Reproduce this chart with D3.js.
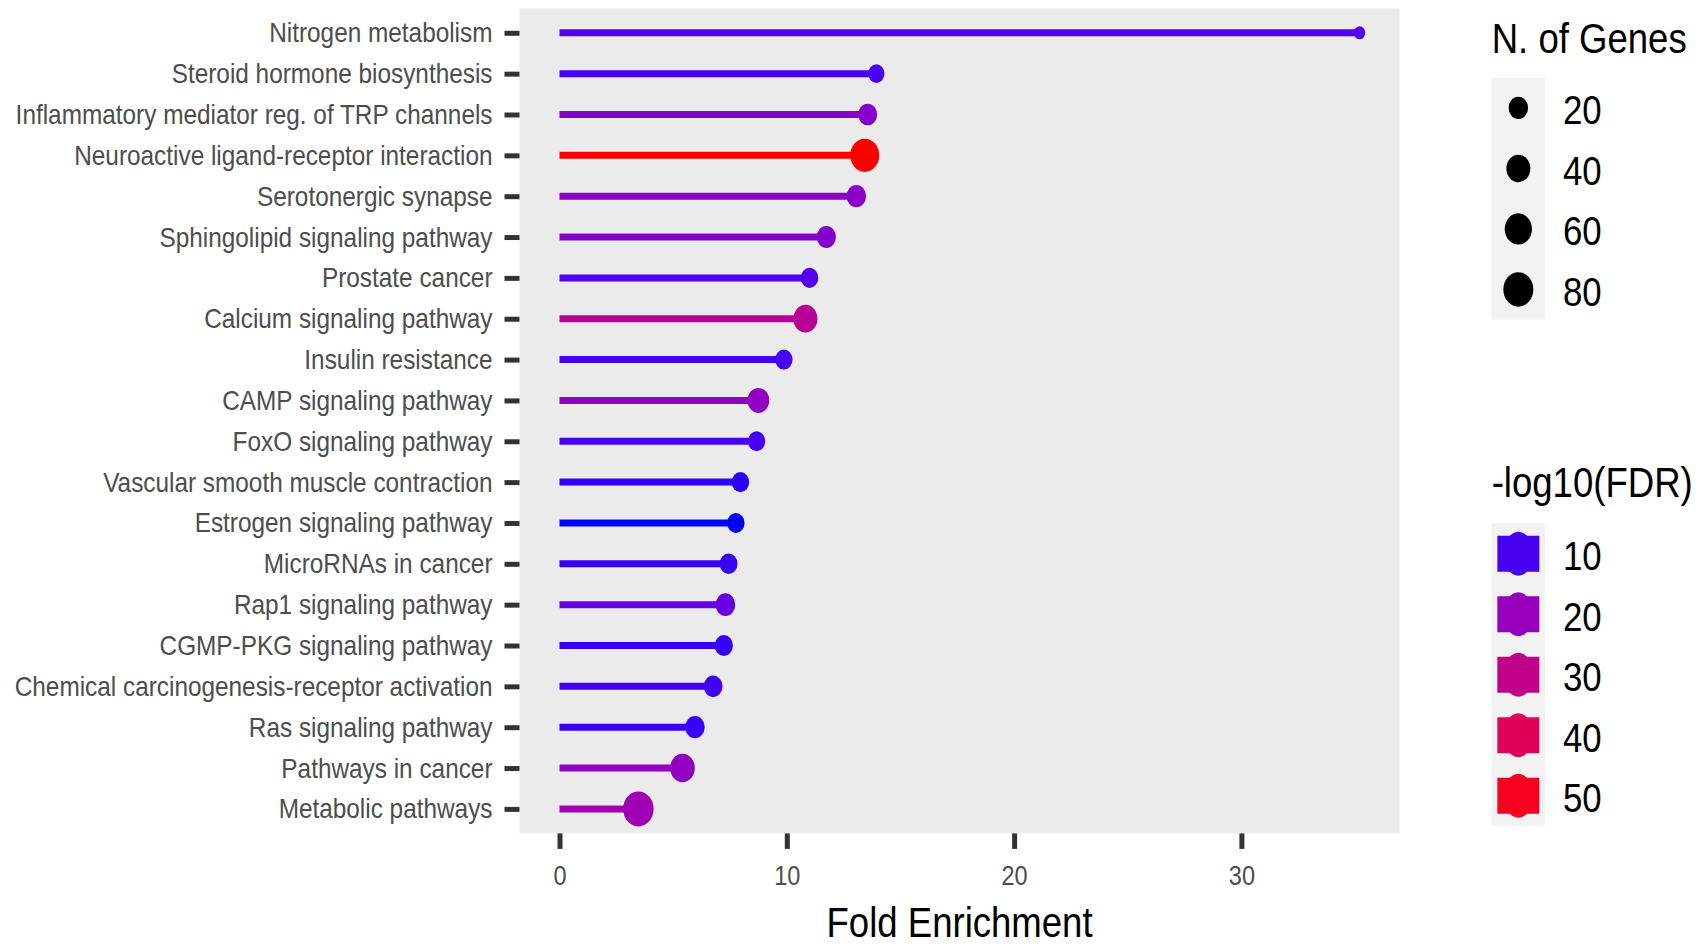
<!DOCTYPE html>
<html>
<head>
<meta charset="utf-8">
<script src="https://cdn.jsdelivr.net/npm/d3@7"></script>
<style>
  html, body { margin: 0; padding: 0; background: #ffffff; }
  svg { display: block; font-family: "Liberation Sans", Arial, Helvetica, sans-serif; }
</style>
</head>
<body>
<svg id="chart" width="1697" height="946"></svg>
<script>
// KEGG pathway enrichment, top to bottom
const categories = [
  "Nitrogen metabolism",
  "Steroid hormone biosynthesis",
  "Inflammatory mediator reg. of TRP channels",
  "Neuroactive ligand-receptor interaction",
  "Serotonergic synapse",
  "Sphingolipid signaling pathway",
  "Prostate cancer",
  "Calcium signaling pathway",
  "Insulin resistance",
  "CAMP signaling pathway",
  "FoxO signaling pathway",
  "Vascular smooth muscle contraction",
  "Estrogen signaling pathway",
  "MicroRNAs in cancer",
  "Rap1 signaling pathway",
  "CGMP-PKG signaling pathway",
  "Chemical carcinogenesis-receptor activation",
  "Ras signaling pathway",
  "Pathways in cancer",
  "Metabolic pathways"
];
const foldEnrichment = [35.2, 13.94, 13.56, 13.43, 13.06, 11.74, 11.0, 10.82, 9.87, 8.75,
                        8.67, 7.96, 7.76, 7.44, 7.30, 7.23, 6.76, 5.96, 5.41, 3.47];
const geneCounts = [6, 11, 18, 72, 20, 19, 14, 41, 14, 29,
                    14, 14, 14, 15, 21, 16, 18, 20, 44, 84];
const negLog10FDR = [11, 10, 17, 53, 18, 17, 11, 28, 10, 19,
                     10, 8.5, 7.5, 9, 13, 9, 9.5, 9, 19, 22];

const xTicks = [0, 10, 20, 30];
const sizeBreaks = [20, 40, 60, 80];
const colorBreaks = [10, 20, 30, 40, 50];

const xTitle = "Fold Enrichment";
const sizeTitle = "N. of Genes";
const colorTitle = "-log10(FDR)";

// horizontal squeeze applied to glyphs and point widths
const SX = 0.87;

const panel = { left: 519.5, right: 1399.6, top: 8.3, bottom: 833.4 };

const svg = d3.select("#chart");

// scales
const xMax = d3.max(foldEnrichment);
const xPad = xMax * 0.05;
const x = d3.scaleLinear().domain([-xPad, xMax + xPad]).range([panel.left, panel.right]);
const y = d3.scalePoint().domain(categories).range([panel.top, panel.bottom]).padding(0.6);

const color = d3.scaleLinear()
  .domain(d3.extent(negLog10FDR))
  .range(["#0000ff", "#ff0000"])
  .interpolate(d3.interpolateLab);

const gExt = d3.extent(geneCounts);
const sizeT = d3.scaleLinear().domain(gExt).range([0, 1]).clamp(true);
const diam = d3.scaleLinear().domain([0, 1]).range([13, 35]);
const dotDiameter = n => diam(Math.sqrt(sizeT(n)));

// panel background
svg.append("rect")
  .attr("x", panel.left).attr("y", panel.top)
  .attr("width", panel.right - panel.left).attr("height", panel.bottom - panel.top)
  .attr("fill", "#ebebeb");

const rows = categories.map((c, i) => ({
  cat: c, fe: foldEnrichment[i], n: geneCounts[i], fdr: negLog10FDR[i]
}));

// lollipop stems
svg.append("g").selectAll("line").data(rows).join("line")
  .attr("x1", x(0)).attr("x2", d => x(d.fe))
  .attr("y1", d => y(d.cat)).attr("y2", d => y(d.cat))
  .attr("stroke", d => color(d.fdr))
  .attr("stroke-width", 7);

// heads
svg.append("g").selectAll("ellipse").data(rows).join("ellipse")
  .attr("cx", d => x(d.fe)).attr("cy", d => y(d.cat))
  .attr("ry", d => dotDiameter(d.n) / 2)
  .attr("rx", d => dotDiameter(d.n) / 2 * SX)
  .attr("fill", d => color(d.fdr));

// y axis
const yAxis = svg.append("g")
  .attr("transform", `translate(${panel.left},0)`)
  .call(d3.axisLeft(y).tickSize(15).tickPadding(12));
yAxis.select(".domain").remove();
yAxis.selectAll(".tick line").attr("stroke", "#333333").attr("stroke-width", 5);
yAxis.selectAll(".tick text")
  .attr("fill", "#4d4d4d")
  .attr("font-size", 28)
  .attr("font-family", "Liberation Sans, Arial, sans-serif")
  .attr("x", -27 / SX)
  .attr("transform", `scale(${SX},1)`);

// x axis
const xAxis = svg.append("g")
  .attr("transform", `translate(0,${panel.bottom})`)
  .call(d3.axisBottom(x).tickValues(xTicks).tickSize(15.5).tickPadding(17).tickFormat(d3.format("d")));
xAxis.select(".domain").remove();
xAxis.selectAll(".tick line").attr("stroke", "#333333").attr("stroke-width", 5);
xAxis.selectAll(".tick text")
  .attr("fill", "#4d4d4d")
  .attr("font-size", 27)
  .attr("font-family", "Liberation Sans, Arial, sans-serif")
  .attr("transform", `scale(${SX},1)`);

function squeezedText(parent, tx, ty, str, size, anchor) {
  return parent.append("text")
    .attr("transform", `translate(${tx},${ty}) scale(${SX},1)`)
    .attr("text-anchor", anchor || "start")
    .attr("font-size", size)
    .attr("fill", "#000000")
    .text(str);
}

// axis title
squeezedText(svg, (panel.left + panel.right) / 2, 937, xTitle, 42, "middle");

// size legend
const legX = 1491.7, keyW = 53.3, keyH = 60.5, labelX = 1563;
const sizeLeg = svg.append("g");
squeezedText(sizeLeg, legX, 53, sizeTitle, 42);
const sizeTop = 77.7;
sizeLeg.append("rect")
  .attr("x", legX).attr("y", sizeTop)
  .attr("width", keyW).attr("height", keyH * sizeBreaks.length)
  .attr("fill", "#f2f2f2");
sizeBreaks.forEach((b, i) => {
  const cy = sizeTop + keyH * (i + 0.5);
  sizeLeg.append("ellipse")
    .attr("cx", legX + keyW / 2).attr("cy", cy)
    .attr("ry", dotDiameter(b) / 2).attr("rx", dotDiameter(b) / 2 * SX)
    .attr("fill", "#000000");
  squeezedText(sizeLeg, labelX, cy + 16.5, String(b), 40);
});

// colour legend
const colLeg = svg.append("g");
squeezedText(colLeg, legX, 496.5, colorTitle, 42);
const colTop = 523.5;
colLeg.append("rect")
  .attr("x", legX).attr("y", colTop)
  .attr("width", keyW).attr("height", keyH * colorBreaks.length)
  .attr("fill", "#f2f2f2");
colorBreaks.forEach((b, i) => {
  const cy = colTop + keyH * (i + 0.5);
  const cx = legX + keyW / 2;
  colLeg.append("rect")
    .attr("x", cx - 21).attr("y", cy - 18)
    .attr("width", 42).attr("height", 36)
    .attr("fill", color(b));
  colLeg.append("ellipse")
    .attr("cx", cx).attr("cy", cy)
    .attr("rx", 15).attr("ry", 22)
    .attr("fill", color(b));
  squeezedText(colLeg, labelX, cy + 16.5, String(b), 40);
});
</script>
</body>
</html>
